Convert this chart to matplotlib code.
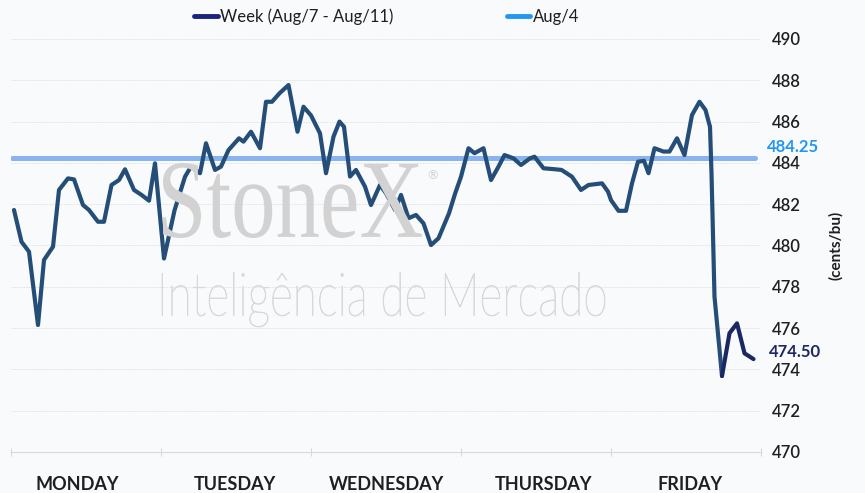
import matplotlib
matplotlib.use("Agg")
import matplotlib.pyplot as plt
import matplotlib.transforms as mtransforms
from matplotlib.lines import Line2D
from matplotlib.textpath import TextPath
from matplotlib.patches import PathPatch
from matplotlib.font_manager import FontProperties

# time in trading days since Monday open, price in cents/bu
times = [0.02, 0.07, 0.12, 0.18, 0.22, 0.28, 0.32, 0.38, 0.42, 0.48, 0.52, 0.58, 0.62,
         0.67, 0.72, 0.76, 0.82, 0.87, 0.92, 0.96, 1.02,
         1.09, 1.16, 1.20, 1.26, 1.30, 1.36, 1.40, 1.45, 1.52, 1.55, 1.60, 1.66, 1.70,
         1.74, 1.79, 1.85, 1.91, 1.95, 2.00,
         2.06, 2.10, 2.15, 2.19, 2.22, 2.26, 2.30, 2.36, 2.40, 2.46, 2.50, 2.56, 2.60,
         2.65, 2.70, 2.75, 2.80, 2.85, 2.92, 2.96,
         3.00, 3.05, 3.09, 3.15, 3.20, 3.25, 3.29, 3.35, 3.40, 3.46, 3.49, 3.55, 3.63,
         3.67, 3.74, 3.80, 3.85, 3.94, 3.98,
         4.00, 4.05, 4.10, 4.14, 4.18, 4.22, 4.25, 4.29, 4.35, 4.39, 4.44, 4.49, 4.54,
         4.59, 4.63, 4.66, 4.67, 4.69, 4.74, 4.79, 4.84, 4.89, 4.95]
week = [481.72, 480.18, 479.70, 476.15, 479.30, 479.94, 482.69, 483.25, 483.20, 481.96,
        481.72, 481.15, 481.15, 482.93, 483.17, 483.69, 482.69, 482.45, 482.17, 483.98, 479.37,
        481.70, 483.33, 483.82, 483.50, 484.95, 483.66, 483.82, 484.62, 485.19, 485.03,
        485.51, 484.71, 486.96, 486.96, 487.37, 487.77, 485.51, 486.72, 486.30,
        485.43, 483.50, 485.27, 486.00, 485.75, 483.34, 483.66, 482.85, 481.96, 482.93,
        482.53, 481.72, 482.45, 481.32, 481.48, 481.07, 480.02, 480.35, 481.56, 482.50,
        483.33, 484.71, 484.47, 484.71, 483.17, 483.82, 484.38, 484.22, 483.90, 484.22,
        484.30, 483.74, 483.69, 483.66, 483.33, 482.69, 482.93, 483.01, 482.61,
        482.20, 481.68, 481.68, 483.01, 484.06, 484.10, 483.50, 484.71, 484.55, 484.55,
        485.19, 484.38, 486.32, 486.96, 486.56, 485.75, 483.50, 477.52, 473.68, 475.75,
        476.23, 474.78, 474.50]
aug4 = 484.25
last_close = 474.50

days = ["MONDAY", "TUESDAY", "WEDNESDAY", "THURSDAY", "FRIDAY"]
day_label_pos = [0.44, 1.49, 2.50, 3.55, 4.53]
y_ticks = list(range(470, 491, 2))

BG = "#f9fafc"
LINE = "#244e78"
NAVY = "#1c2864"
LIGHT = "#8ab4f0"
BRIGHT = "#2196f3"
TXT = "#1f1f1f"

plt.rcParams['font.family'] = ['Lato', 'DejaVu Sans']

fig = plt.figure(figsize=(8.65, 4.93), dpi=100, facecolor=BG)
ax = fig.add_axes([11 / 865, 1 - 452 / 493, 750 / 865, 413 / 493])
ax.set_facecolor(BG)


def watermark(s, box, prop, color, stroke=0.0):
    # fit text outline into a pixel box (x0, y0, x1, y1), top-left origin
    tp = TextPath((0, 0), s, size=100, prop=prop)
    bb = tp.get_extents()
    x0, y0, x1, y1 = box
    tr = (mtransforms.Affine2D().translate(-bb.x0, -bb.y0)
          .scale((x1 - x0) / bb.width, (y1 - y0) / bb.height)
          .translate(x0, 493 - y1))
    p = PathPatch(tp, transform=tr, facecolor=color, edgecolor=color,
                  linewidth=stroke, zorder=0.5)
    fig.add_artist(p)


watermark("StoneX", (163, 163, 422, 238), FontProperties(family="Liberation Serif"), "#d2d2d2")
watermark("Inteligência de Mercado", (162, 272, 605, 327),
          FontProperties(family="Lato", weight="light"), "#d8d8d8", stroke=0.5)
fig.text(426 / 865, 1 - 176 / 493, "®", fontsize=9, color="#d2d2d2", family="DejaVu Sans",
         ha="left", va="center", zorder=0.5)

# grid
for v in y_ticks[1:]:
    ax.axhline(v, color="#e4e6ea", lw=0.7, ls=(0, (2, 1)), zorder=1)

ax.hlines(aug4, times[0] - 0.015, times[-1] + 0.01, color=LIGHT, lw=3.6,
          capstyle='round', zorder=2)

imin = week.index(min(week))
ax.plot(times[:imin + 1], week[:imin + 1], color=LINE, lw=3.0,
        solid_joinstyle='round', solid_capstyle='round', zorder=3)
ax.plot(times[imin:], week[imin:], color=NAVY, lw=3.0,
        solid_joinstyle='round', solid_capstyle='round', zorder=3)

ax.set_xlim(0, 5)
ax.set_ylim(470, 490)

ax.yaxis.tick_right()
ax.set_yticks(y_ticks)
ax.tick_params(axis='y', length=0, pad=8, labelsize=12, labelcolor=TXT)
for lab in ax.get_yticklabels():
    lab.set_fontweight('semibold')

ax.set_xticks(day_label_pos)
ax.set_xticklabels(days, fontsize=13, fontweight='bold', color=TXT)
ax.set_xticks(range(6), minor=True)
ax.tick_params(axis='x', which='major', length=0, pad=17)
ax.tick_params(axis='x', which='minor', length=6, direction='inout', color="#d8d8d8", width=0.8)

for side in ['top', 'left', 'right']:
    ax.spines[side].set_visible(False)
ax.spines['bottom'].set_color("#d8d8d8")
ax.spines['bottom'].set_linewidth(0.8)

ax.yaxis.set_label_position('right')
ax.set_ylabel("(cents/bu)", fontsize=11, fontweight='bold', color=TXT, labelpad=20)

trans = mtransforms.blended_transform_factory(ax.transAxes, ax.transData)
ax.annotate(f"{aug4:.2f}", (1.0, aug4), xycoords=trans, xytext=(4, 8),
            textcoords='offset points', color=BRIGHT, fontsize=12, fontweight='bold',
            ha='left', va='center')
ax.annotate(f"{last_close:.2f}", (1.0, last_close), xycoords=trans, xytext=(6, 5),
            textcoords='offset points', color=NAVY, fontsize=12, fontweight='bold',
            ha='left', va='center')

handles = [Line2D([], [], color="#1a237e", lw=3.5, solid_capstyle='round'),
           Line2D([], [], color=BRIGHT, lw=3.5, solid_capstyle='round')]
fig.legend(handles, ["Week (Aug/7 - Aug/11)", "Aug/4"], loc='center',
           bbox_to_anchor=(0.447, 1 - 17 / 493), ncol=2, frameon=False,
           fontsize=12, handlelength=1.4, handletextpad=0.15, columnspacing=6.8,
           labelcolor=TXT)

fig.savefig("out.png", dpi=100, facecolor=BG)
